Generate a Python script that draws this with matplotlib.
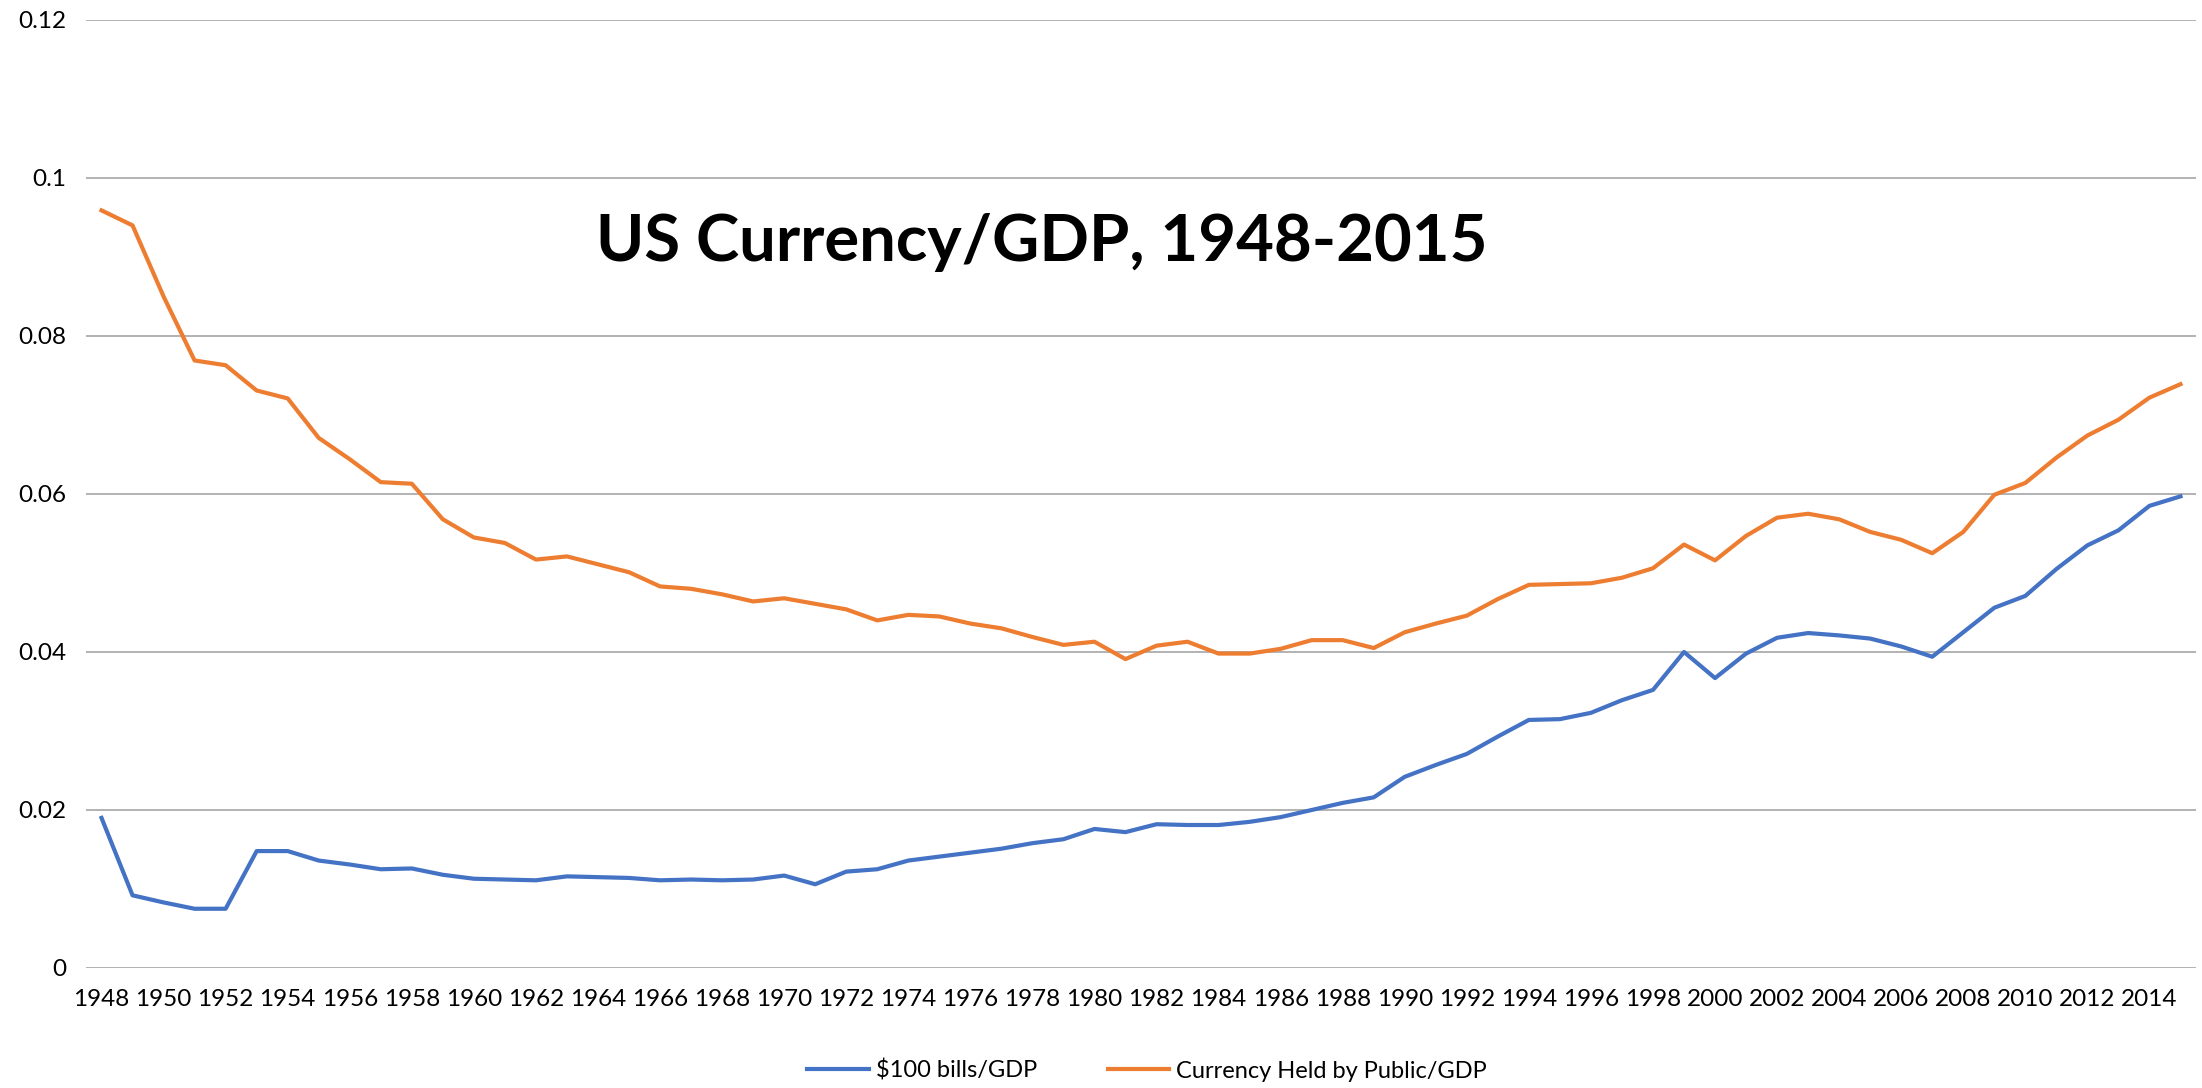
import matplotlib
matplotlib.use("Agg")
from matplotlib import pyplot as plt

# data
years = list(range(1948, 2016))

bills_100 = [0.0190, 0.0092, 0.0083, 0.0075, 0.0075, 0.0148, 0.0148, 0.0136, 0.0131, 0.0125,
             0.0126, 0.0118, 0.0113, 0.0112, 0.0111, 0.0116, 0.0115, 0.0114, 0.0111, 0.0112,
             0.0111, 0.0112, 0.0117, 0.0106, 0.0122, 0.0125, 0.0136, 0.0141, 0.0146, 0.0151,
             0.0158, 0.0163, 0.0176, 0.0172, 0.0182, 0.0181, 0.0181, 0.0185, 0.0191, 0.0200,
             0.0209, 0.0216, 0.0242, 0.0257, 0.0271, 0.0293, 0.0314, 0.0315, 0.0323, 0.0339,
             0.0352, 0.0400, 0.0367, 0.0398, 0.0418, 0.0424, 0.0421, 0.0417, 0.0407, 0.0394,
             0.0425, 0.0456, 0.0471, 0.0505, 0.0535, 0.0554, 0.0585, 0.0597]

currency_public = [0.0959, 0.0940, 0.0850, 0.0769, 0.0763, 0.0731, 0.0721, 0.0671, 0.0644, 0.0615,
                   0.0613, 0.0568, 0.0545, 0.0538, 0.0517, 0.0521, 0.0511, 0.0501, 0.0483, 0.0480,
                   0.0473, 0.0464, 0.0468, 0.0461, 0.0454, 0.0440, 0.0447, 0.0445, 0.0436, 0.0430,
                   0.0419, 0.0409, 0.0413, 0.0391, 0.0408, 0.0413, 0.0398, 0.0398, 0.0404, 0.0415,
                   0.0415, 0.0405, 0.0425, 0.0436, 0.0446, 0.0467, 0.0485, 0.0486, 0.0487, 0.0494,
                   0.0506, 0.0536, 0.0516, 0.0547, 0.0570, 0.0575, 0.0568, 0.0552, 0.0542, 0.0525,
                   0.0552, 0.0599, 0.0614, 0.0646, 0.0674, 0.0694, 0.0722, 0.0739]

yticks = [0, 0.02, 0.04, 0.06, 0.08, 0.1, 0.12]
ytick_labels = ['0', '0.02', '0.04', '0.06', '0.08', '0.1', '0.12']

plt.rcParams['font.family'] = ['Lato', 'DejaVu Sans']

fig = plt.figure(figsize=(22.02, 10.88), dpi=100)
ax = fig.add_axes([86/2202, 1 - 968/1088, 2110/2202, 948/1088])

ax.plot(years, bills_100, color='#4472C4', lw=3.0, label='$100 bills/GDP', solid_joinstyle='round')
ax.plot(years, currency_public, color='#ED7D31', lw=3.0, label='Currency Held by Public/GDP', solid_joinstyle='round')

ax.set_xlim(1947.5, 2015.5)
ax.set_ylim(0, 0.12)
ax.set_xticks(years[::2])
ax.set_xticklabels([str(y) for y in years[::2]], fontsize=17.5)
ax.set_yticks(yticks)
ax.set_yticklabels(ytick_labels, fontsize=17.5)
ax.tick_params(length=0, pad=14)
ax.tick_params(axis='x', pad=15)

ax.grid(axis='y', color='#A6A6A6', lw=1.2)
ax.set_axisbelow(True)
for s in ax.spines.values():
    s.set_visible(False)

fig.text(1042/2202, 1 - 242/1088, 'US Currency/GDP, 1948-2015', ha='center', va='center',
         fontsize=47, fontweight='bold')

fig.legend(loc='center', bbox_to_anchor=(1147/2202, 0.016), ncol=2, frameon=False,
           fontsize=17, handlelength=2.6, columnspacing=3.0, handletextpad=0.3)

plt.savefig('out.png', dpi=100)
